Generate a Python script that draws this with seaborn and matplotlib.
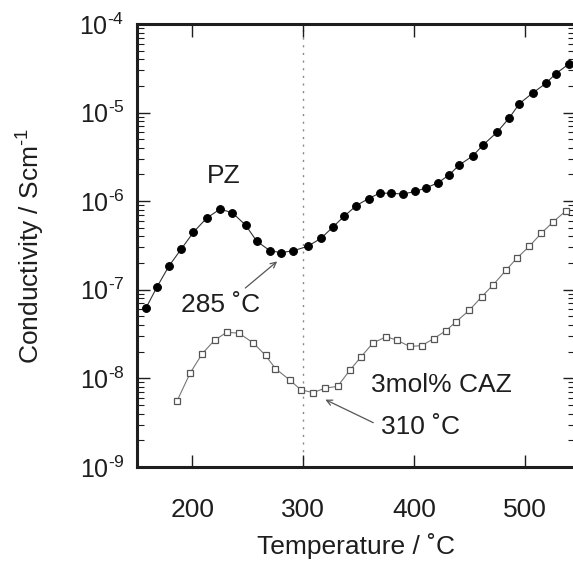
import matplotlib
matplotlib.use('Agg')
import matplotlib.pyplot as plt
import matplotlib.ticker as mticker
import seaborn as sns
import pandas as pd
import numpy as np

# PZ (filled circles)
pz_temp = [158, 168, 179, 190, 201, 213, 225, 236, 248, 258, 270, 280, 291, 304,
           316, 327, 337, 348, 359, 369, 379, 390, 401, 411, 422, 432, 441, 453,
           462, 475, 486, 495, 507, 519, 528, 540]
pz_log = [-7.21, -6.97, -6.73, -6.54, -6.35, -6.19, -6.09, -6.13, -6.27, -6.45,
          -6.56, -6.58, -6.56, -6.51, -6.42, -6.29, -6.17, -6.05, -5.97, -5.91,
          -5.91, -5.92, -5.89, -5.85, -5.79, -5.70, -5.59, -5.49, -5.37, -5.22,
          -5.06, -4.90, -4.78, -4.67, -4.56, -4.45]

# 3mol% CAZ (open squares)
caz_temp = [186, 198, 209, 220, 231, 242, 255, 266, 275, 288, 298, 309, 320, 331,
            342, 352, 363, 375, 385, 396, 407, 418, 429, 438, 450, 461, 471, 483,
            493, 504, 515, 525, 537]
caz_log = [-8.26, -7.94, -7.72, -7.57, -7.48, -7.49, -7.60, -7.74, -7.89, -8.02,
           -8.13, -8.16, -8.11, -8.09, -7.91, -7.76, -7.60, -7.53, -7.57, -7.64,
           -7.63, -7.55, -7.46, -7.36, -7.23, -7.08, -6.95, -6.78, -6.64, -6.51,
           -6.36, -6.24, -6.11]

x_ticks = [200, 300, 400, 500]
y_decades = [-9, -8, -7, -6, -5, -4]

pz = pd.DataFrame({'T': pz_temp, 'sigma': 10 ** np.array(pz_log)})
caz = pd.DataFrame({'T': caz_temp, 'sigma': 10 ** np.array(caz_log)})

sns.set_style('ticks')
plt.rcParams['font.family'] = ['Liberation Sans', 'DejaVu Sans']
plt.rcParams['mathtext.fontset'] = 'custom'
plt.rcParams['mathtext.rm'] = 'Liberation Sans'
plt.rcParams['mathtext.it'] = 'Liberation Sans'
plt.rcParams['mathtext.default'] = 'regular'

ink = '#1e1e1e'
fig = plt.figure(figsize=(5.73, 5.61), dpi=100)
ax = fig.add_axes([0.239, 0.1676, 0.764, 0.7897])

ax.axvline(300, color='#888888', lw=1, ls=(0, (1.5, 4)), zorder=0)

sns.lineplot(data=pz, x='T', y='sigma', ax=ax, color='#333333', lw=0.8,
             marker='o', markersize=5.6, markerfacecolor='black',
             markeredgecolor='black')
sns.lineplot(data=caz, x='T', y='sigma', ax=ax, color='#777777', lw=0.8,
             marker='s', markersize=5, markerfacecolor='white',
             markeredgecolor='#555555', markeredgewidth=0.9)

ax.set_yscale('log')
ax.set_xlim(150, 545)
ax.set_ylim(1e-9, 1e-4)
ax.set_xticks(x_ticks)
major = [10.0 ** d for d in y_decades]
minor = [m * 10.0 ** d for d in y_decades[:-1] for m in range(2, 10)]
ax.yaxis.set_major_locator(mticker.FixedLocator(major))
ax.yaxis.set_minor_locator(mticker.FixedLocator(minor))
ax.yaxis.set_major_formatter(mticker.FixedFormatter(
    ['$10^{\u2010%d}$' % abs(d) for d in y_decades]))
ax.yaxis.set_minor_formatter(mticker.NullFormatter())

for s in ax.spines.values():
    s.set_linewidth(2.2)
    s.set_color(ink)

ax.tick_params(axis='both', which='major', direction='in', length=9, width=1,
               top=True, right=True, colors=ink)
ax.tick_params(axis='x', which='major', pad=22, labelsize=19)
ax.tick_params(axis='y', which='major', pad=9, labelsize=18)
ax.tick_params(axis='y', which='minor', direction='in', length=5, width=0.8,
               right=True, colors=ink)

ax.set_xlabel('Temperature / \u02daC', fontsize=19, color=ink)
ax.set_ylabel('Conductivity / Scm$^{\u20101}$', fontsize=19, color=ink)
ax.xaxis.set_label_coords(0.5, -0.149)
ax.yaxis.set_label_coords(-0.205, 0.5)

ax.text(228.5, 10 ** -5.72, 'PZ', fontsize=19, ha='center', va='center', color=ink)
ax.text(225.5, 10 ** -7.17, '285 \u02daC', fontsize=19, ha='center', va='center',
        color=ink)
ax.annotate('', xy=(276.5, 10 ** -6.68), xytext=(247.8, 10 ** -6.98),
            arrowprops=dict(arrowstyle='->', color='#555555', lw=0.9,
                            shrinkA=0, shrinkB=0))
ax.text(425, 10 ** -8.07, '3mol% CAZ', fontsize=19, ha='center', va='center',
        color=ink)
ax.text(405.5, 10 ** -8.55, '310 \u02daC', fontsize=19, ha='center', va='center',
        color=ink)
ax.annotate('', xy=(320, 10 ** -8.24), xytext=(363.2, 10 ** -8.50),
            arrowprops=dict(arrowstyle='->', color='#555555', lw=0.9,
                            shrinkA=0, shrinkB=0))

fig.savefig('out.png', dpi=100)
